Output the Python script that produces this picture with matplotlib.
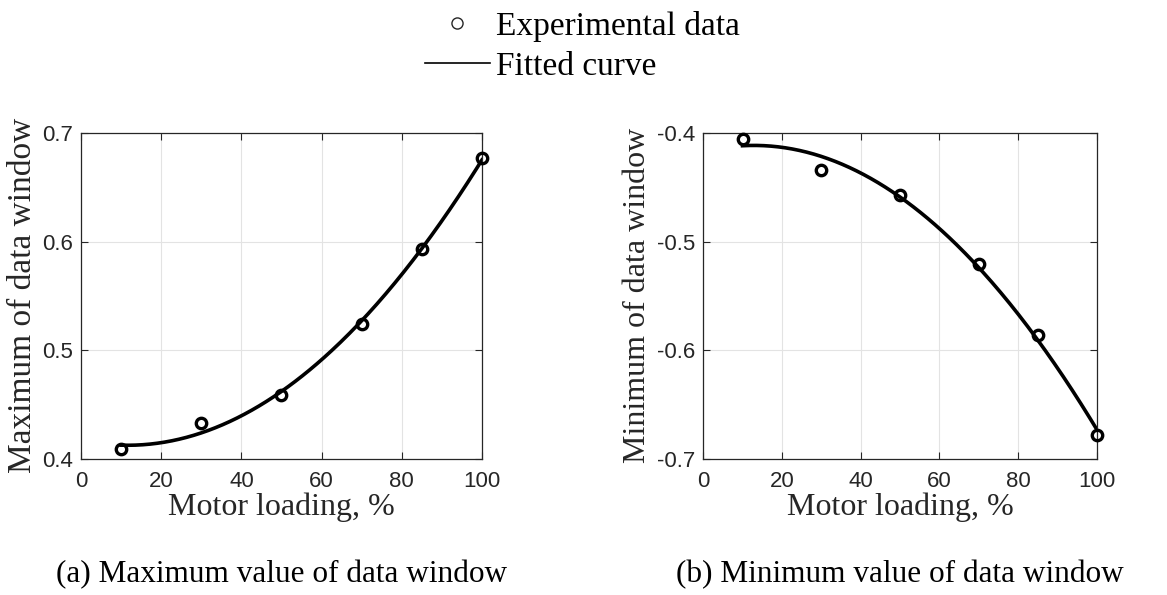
import numpy as np
import matplotlib.pyplot as plt
from matplotlib.lines import Line2D

# motor loading (%) and measured extremes of the data window
load = [10, 30, 50, 70, 85, 100]
max_vals = [0.4086, 0.4325, 0.4586, 0.5245, 0.593, 0.677]
min_vals = [-0.4055, -0.434, -0.4567, -0.5202, -0.5856, -0.6785]

xticks = [0, 20, 40, 60, 80, 100]
max_yticks = [0.4, 0.5, 0.6, 0.7]
min_yticks = [-0.7, -0.6, -0.5, -0.4]

serif = 'Liberation Serif'
sans = 'Liberation Sans'
dark = '#262626'

fig = plt.figure(figsize=(11.67, 5.95), dpi=100)
ax1 = fig.add_axes([0.0694, 0.229, 0.3436, 0.5475])
ax2 = fig.add_axes([0.6025, 0.229, 0.3375, 0.5475])


def panel(ax, y, yticks, ylabel, ysize, caption):
    coef = np.polyfit(load, y, 2)
    xs = np.linspace(load[0], load[-1], 200)
    ax.plot(xs, np.polyval(coef, xs), color='black', lw=2.6, zorder=3)
    ax.plot(load, y, 'o', mfc='none', mec='black', mew=2.4, ms=7.5, zorder=4,
            clip_on=False)
    ax.set_xlim(0, 100)
    ax.set_ylim(yticks[0], yticks[-1])
    ax.set_xticks(xticks)
    ax.set_yticks(yticks)
    ax.set_yticklabels([f'{v:g}' for v in yticks])
    ax.grid(True, color='#e3e3e3', lw=0.8)
    ax.set_axisbelow(True)
    ax.tick_params(direction='in', top=True, right=True, length=5,
                   colors=dark, labelsize=16, pad=6)
    ax.tick_params(axis='x', pad=9)
    for lab in ax.get_xticklabels() + ax.get_yticklabels():
        lab.set_fontfamily(sans)
    for s in ax.spines.values():
        s.set_color(dark)
        s.set_linewidth(0.9)
    ax.set_ylabel(ylabel, fontfamily=serif, fontsize=ysize, color=dark,
                  labelpad=3)
    ax.set_xlabel('Motor loading, %', fontfamily=serif, fontsize=23,
                  color=dark, labelpad=0)
    ax.text(0.5, -0.356, caption, transform=ax.transAxes, ha='center',
            va='center', fontfamily=serif, fontsize=22.5, color='black')


panel(ax1, max_vals, max_yticks, 'Maximum of data window', 24,
      '(a) Maximum value of data window')
panel(ax2, min_vals, min_yticks, 'Minimum of data window', 23,
      '(b) Minimum value of data window')

handles = [
    Line2D([], [], ls='none', marker='o', mfc='none', mec=dark, mew=1.0, ms=8),
    Line2D([], [], color='black', lw=1.2),
]
fig.legend(handles, ['Experimental data', 'Fitted curve'], loc='upper left',
           bbox_to_anchor=(0.364, 0.982), frameon=False,
           prop={'family': serif, 'size': 24}, handlelength=1.95,
           handletextpad=0.2, labelspacing=0.28, borderpad=0,
           borderaxespad=0)

fig.savefig('out.png', dpi=100)
